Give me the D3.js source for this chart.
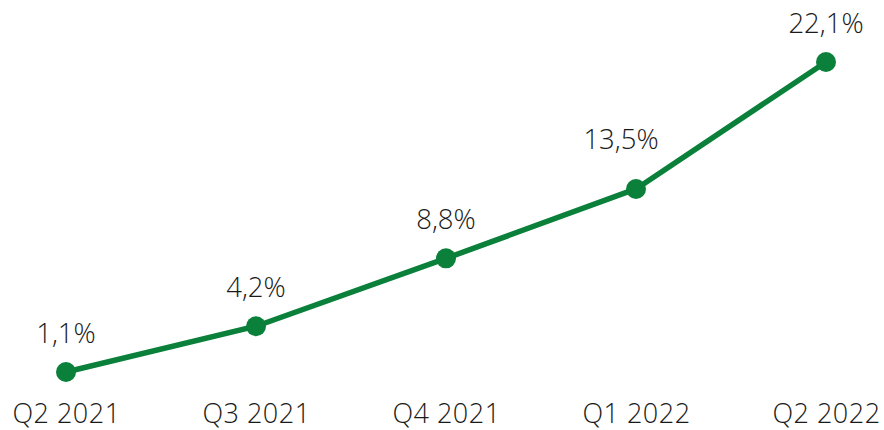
<!DOCTYPE html>
<html><head><meta charset="utf-8">
<script src="https://cdn.jsdelivr.net/npm/d3@7"></script>
<style>body{margin:0;background:#fff}svg{display:block}</style>
</head><body>
<script>
const categories = ["Q2 2021","Q3 2021","Q4 2021","Q1 2022","Q2 2022"];
const values = [1.1, 4.2, 8.8, 13.5, 22.1];
const labels = ["1,1%","4,2%","8,8%","13,5%","22,1%"];

const W = 884, H = 430;
const svg = d3.select("body").append("svg").attr("width", W).attr("height", H);
const x = d3.scalePoint().domain(categories).range([66, 826]);
const y = d3.scaleLinear().domain([1.1, 22.1]).range([372, 62]);
const color = "#0a803a";
const font = "'Open Sans', sans-serif";

const data = categories.map((c, i) => ({c, v: values[i], l: labels[i]}));
// layout nudge for the label that sits near the rising line
const nudge = (d, i) => i === 3 ? [-15, -11] : [0, 0];

svg.append("path").datum(data)
  .attr("fill", "none").attr("stroke", color).attr("stroke-width", 5.5)
  .attr("stroke-linejoin", "round")
  .attr("d", d3.line().x(d => x(d.c)).y(d => y(d.v)));

svg.selectAll("circle").data(data).join("circle")
  .attr("cx", d => x(d.c)).attr("cy", d => y(d.v)).attr("r", 10).attr("fill", color);

svg.selectAll("text.val").data(data).join("text").attr("class", "val")
  .attr("x", (d, i) => x(d.c) + nudge(d, i)[0]).attr("y", (d, i) => y(d.v) - 29 + nudge(d, i)[1])
  .attr("text-anchor", "middle").attr("font-family", font).attr("font-weight", 350)
  .attr("font-size", 27.5).attr("fill", "#1a1a1a").text(d => d.l);

const axis = d3.axisBottom(x).tickSize(0).tickPadding(0);
const g = svg.append("g").attr("transform", "translate(0,423)").call(axis);
g.select(".domain").remove();
g.selectAll("text").attr("font-family", font).attr("font-weight", 350)
  .attr("font-size", 27).attr("letter-spacing", 0.5)
  .attr("fill", "#1a1a1a").attr("dy", 0);
</script>
</body></html>
